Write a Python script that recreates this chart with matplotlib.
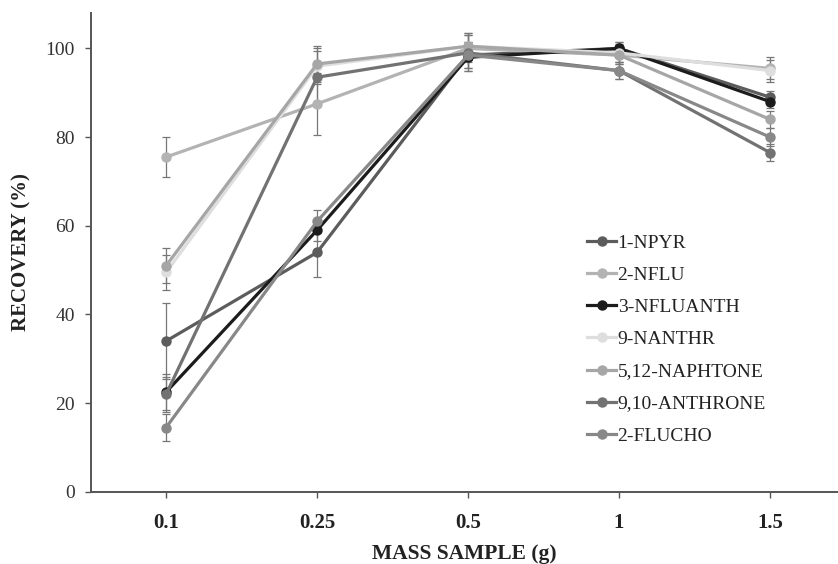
import matplotlib
matplotlib.use("Agg")
import matplotlib.pyplot as plt
from matplotlib.lines import Line2D
import numpy as np

# mass sample categories
masses = ["0.1", "0.25", "0.5", "1", "1.5"]

names = ["1-NPYR", "2-NFLU", "3-NFLUANTH", "9-NANTHR",
         "5,12-NAPHTONE", "9,10-ANTHRONE", "2-FLUCHO"]

npyr = [34.0, 54.0, 98.5, 100.0, 89.0]
nflu = [75.5, 87.5, 100.0, 98.5, 95.5]
nfluanth = [22.5, 59.0, 98.0, 100.0, 88.0]
nanthr = [49.5, 96.0, 100.5, 99.0, 95.0]
naphtone = [51.0, 96.5, 100.5, 98.5, 84.0]
anthrone = [22.0, 93.5, 99.0, 95.0, 76.5]
flucho = [14.5, 61.0, 98.5, 95.0, 80.0]

npyr_err = [8.5, 5.5, 3.0, 1.5, 1.5]
nflu_err = [4.5, 7.0, 3.0, 2.0, 2.5]
nfluanth_err = [4.0, 2.5, 3.0, 1.5, 1.5]
nanthr_err = [4.0, 4.0, 3.0, 2.0, 2.5]
naphtone_err = [4.0, 4.0, 3.0, 2.0, 2.0]
anthrone_err = [4.0, 6.0, 4.0, 2.0, 2.0]
flucho_err = [3.0, 2.5, 3.0, 2.0, 2.0]

values = [npyr, nflu, nfluanth, nanthr, naphtone, anthrone, flucho]
errors = [npyr_err, nflu_err, nfluanth_err, nanthr_err, naphtone_err, anthrone_err, flucho_err]
colors = ["#5c5c5c", "#b3b3b3", "#1c1c1c", "#dedede", "#a6a6a6", "#727272", "#888888"]

plt.rcParams['font.family'] = ['Liberation Serif', 'DejaVu Serif']

fig = plt.figure(figsize=(8.38, 5.64), dpi=100)
ax = fig.add_axes([0.109, 0.128, 0.891, 0.849])

x = np.arange(len(masses))
handles = []
for name, vals, err, col in zip(names, values, errors, colors):
    ax.errorbar(x, vals, yerr=err, color=col, lw=2.3, marker='o', ms=6.5,
                ecolor="#777777", elinewidth=0.9, capsize=3, capthick=0.9)
    handles.append(Line2D([], [], color=col, lw=2.3, marker='o', ms=6.5, label=name))

ax.set_xlim(-0.495, 4.45)
ax.set_ylim(0, 108)
ax.set_xticks(x)
ax.set_xticklabels(masses)
ax.set_yticks([0, 20, 40, 60, 80, 100])

for side in ["top", "right"]:
    ax.spines[side].set_visible(False)
for side in ["left", "bottom"]:
    ax.spines[side].set_color("#555555")
    ax.spines[side].set_linewidth(1.4)

ax.tick_params(axis='both', colors="#555555", length=4, width=1)
ax.tick_params(axis='x', labelsize=15, labelcolor="#222222", pad=11)
ax.tick_params(axis='y', labelsize=14, labelcolor="#333333", pad=8)
for lab in ax.get_xticklabels():
    lab.set_fontweight('bold')

ax.set_xlabel("MASS SAMPLE (g)", fontsize=15.5, fontweight='bold', color="#222222", labelpad=8)
ax.set_ylabel("RECOVERY (%)", fontsize=15, fontweight='bold', color="#222222", labelpad=10)

ax.legend(handles=handles, loc='upper left', bbox_to_anchor=(0.641, 0.575), frameon=False,
          fontsize=14, handlelength=1.45, handletextpad=0.1, labelspacing=0.75,
          labelcolor="#222222")

fig.savefig("out.png", dpi=100)
